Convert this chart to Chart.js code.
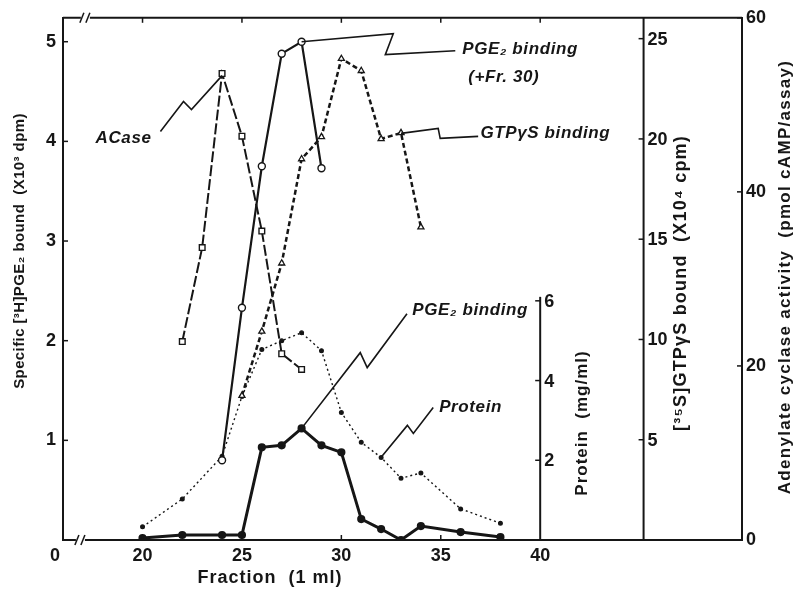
<!DOCTYPE html>
<html>
<head>
<meta charset="utf-8">
<script src="https://cdn.jsdelivr.net/npm/chart.js@4.4.0/dist/chart.umd.min.js"></script>
<style>
  html, body { margin: 0; padding: 0; background: #fff; }
</style>
</head>
<body>
<canvas id="chart_fraction" width="795" height="595"></canvas>
<script>
// axis ticks (the "0" sits just left of the axis break)
const xTickValues = [15.6, 20, 25, 30, 35, 40];
const xTickLabels = ["0", "20", "25", "30", "35", "40"];
const leftTicks = [1, 2, 3, 4, 5];
const protTicks = [2, 4, 6];
const gtpTicks = [5, 10, 15, 20, 25];
const acTicks = [0, 20, 40, 60];

// [3H]PGE2 binding (x10^3 dpm), filled circles
const pgeFrac = [20, 22, 24, 25, 26, 27, 28, 29, 30, 31, 32, 33, 34, 36, 38];
const pgeVal = [0.02, 0.05, 0.05, 0.05, 0.93, 0.95, 1.12, 0.95, 0.88, 0.21, 0.11, 0.0, 0.14, 0.08, 0.03];

// [3H]PGE2 binding with Fr. 30 added, open circles
const pgeFr30Frac = [24, 25, 26, 27, 28, 29];
const pgeFr30Val = [0.8, 2.33, 3.75, 4.88, 5.0, 3.73];

// adenylate cyclase (pmol cAMP/assay), open squares
const acaseFrac = [22, 23, 24, 25, 26, 27, 28];
const acaseVal = [22.8, 33.6, 53.6, 46.4, 35.5, 21.4, 19.6];

// [35S]GTPgS binding (x10^4 cpm), open triangles
const gtpFrac = [25, 26, 27, 28, 29, 30, 31, 32, 33, 34];
const gtpVal = [7.2, 10.4, 13.8, 19.0, 20.1, 24.0, 23.4, 20.0, 20.3, 15.6];

// protein (mg/ml), small dots
const protFrac = [20, 22, 24, 25, 26, 27, 28, 29, 30, 31, 32, 33, 34, 36, 38];
const protVal = [0.33, 1.03, 2.1, 3.6, 4.78, 5.0, 5.2, 4.75, 3.2, 2.45, 2.07, 1.55, 1.68, 0.78, 0.42];

const INK = "#161616";
const FONT = '"Liberation Sans", Arial, "DejaVu Sans", sans-serif';
const protAxisAt = 40;   // fraction where the protein axis stands
const gtpAxisAt = 45.2;  // fraction where the GTPgS axis stands

function pairs(xs, ys) {
  return xs.map((f, i) => ({ x: f, y: ys[i] }));
}

// leader lines with their little zigzag, in (fraction, left axis) units
const leaders = [
  [[20.9, 4.1], [22.06, 4.4], [22.46, 4.32], [24.0, 4.66]],
  [[28.0, 5.0], [32.61, 5.08], [32.21, 4.87], [35.73, 4.91]],
  [[33.0, 4.08], [34.87, 4.13], [34.97, 4.03], [36.88, 4.05]],
  [[28.0, 1.12], [30.95, 1.88], [31.3, 1.73], [33.3, 2.27]],
  [[32.0, 0.83], [33.32, 1.15], [33.62, 1.07], [34.62, 1.33]],
];
const notes = [
  { text: "ACase", x: 17.64, y: 4.03 },
  { text: "PGE\u2082 binding", x: 36.08, y: 4.92 },
  { text: "(+Fr. 30)", x: 36.38, y: 4.64 },
  { text: "GTP\u03B3S binding", x: 37.0, y: 4.08 },
  { text: "PGE\u2082 binding", x: 33.57, y: 2.3 },
  { text: "Protein", x: 34.92, y: 1.33 },
];

function stroke(ctx, pts) {
  ctx.beginPath();
  pts.forEach((p, i) => (i ? ctx.lineTo(p[0], p[1]) : ctx.moveTo(p[0], p[1])));
  ctx.stroke();
}

function vText(ctx, text, x, y, font, spacing) {
  ctx.save();
  ctx.font = font;
  ctx.letterSpacing = spacing;
  ctx.translate(x, y);
  ctx.rotate(-Math.PI / 2);
  ctx.textAlign = "center";
  ctx.textBaseline = "middle";
  ctx.fillText(text, 0, 0);
  ctx.restore();
}

function breakMark(ctx, x, y) {
  ctx.fillStyle = "#fff";
  ctx.fillRect(x - 4, y - 3, 9, 6);
  ctx.fillStyle = INK;
  ctx.lineWidth = 1.5;
  stroke(ctx, [[x - 5, y + 5], [x - 1, y - 5]]);
  stroke(ctx, [[x + 1, y + 5], [x + 5, y - 5]]);
}

// frame, extra axes, inward ticks, titles and labels
const figureDecor = {
  id: "figureDecor",
  afterDraw(chart) {
    const ctx = chart.ctx;
    const area = chart.chartArea;
    const sx = chart.scales.x;
    const sy = chart.scales.y;
    const sAC = chart.scales.yAC;
    const sG = chart.scales.yGtp;
    const sP = chart.scales.yProt;
    ctx.save();
    ctx.strokeStyle = INK;
    ctx.fillStyle = INK;

    // top frame
    ctx.lineWidth = 2;
    stroke(ctx, [[area.left, area.top], [area.right, area.top]]);

    // inward ticks
    ctx.lineWidth = 1.5;
    xTickValues.slice(1).forEach((v) => {
      const px = sx.getPixelForValue(v);
      stroke(ctx, [[px, area.top], [px, area.top + 5]]);
      if (v !== protAxisAt) stroke(ctx, [[px, area.bottom], [px, area.bottom - 5]]);
    });
    leftTicks.forEach((v) => {
      const py = sy.getPixelForValue(v);
      stroke(ctx, [[area.left, py], [area.left + 5, py]]);
    });
    acTicks.slice(1).forEach((v) => {
      const py = sAC.getPixelForValue(v);
      stroke(ctx, [[area.right - 5, py], [area.right, py]]);
    });

    ctx.font = "bold 18px " + FONT;
    ctx.textAlign = "left";
    ctx.textBaseline = "middle";

    // protein axis (stops at 6)
    const xp = sx.getPixelForValue(protAxisAt);
    ctx.lineWidth = 2;
    stroke(ctx, [[xp, area.bottom], [xp, sP.getPixelForValue(6.1)]]);
    ctx.lineWidth = 1.5;
    protTicks.forEach((v) => {
      const py = sP.getPixelForValue(v);
      stroke(ctx, [[xp - 5, py], [xp, py]]);
      ctx.fillText(String(v), xp + 4, py + 1);
    });

    // GTPgS axis (full height)
    const xg = sx.getPixelForValue(gtpAxisAt);
    ctx.lineWidth = 2;
    stroke(ctx, [[xg, area.bottom], [xg, area.top]]);
    ctx.lineWidth = 1.5;
    gtpTicks.forEach((v) => {
      const py = sG.getPixelForValue(v);
      stroke(ctx, [[xg - 5, py], [xg, py]]);
      ctx.fillText(String(v), xg + 4, py + 1);
    });

    // axis breaks
    breakMark(ctx, sx.getPixelForValue(17.1), area.top);
    breakMark(ctx, sx.getPixelForValue(16.85), area.bottom);

    // leaders and notes
    ctx.lineWidth = 1.6;
    leaders.forEach((l) => {
      stroke(ctx, l.map((p) => [sx.getPixelForValue(p[0]), sy.getPixelForValue(p[1])]));
    });
    ctx.font = "italic bold 17px " + FONT;
    ctx.letterSpacing = "0.6px";
    notes.forEach((n) => {
      ctx.fillText(n.text, sx.getPixelForValue(n.x), sy.getPixelForValue(n.y));
    });

    // axis titles
    ctx.font = "bold 18px " + FONT;
    ctx.letterSpacing = "1px";
    ctx.textAlign = "center";
    ctx.fillText("Fraction  (1 ml)", 270, 578);
    vText(ctx, "Specific [\u00B3H]PGE\u2082 bound  (X10\u00B3 dpm)", 20, 251, "bold 15px " + FONT, "0.4px");
    vText(ctx, "Protein  (mg/ml)", 582, 423, "bold 17px " + FONT, "1px");
    vText(ctx, "[\u00B3\u2075S]GTP\u03B3S bound  (X10\u2074 cpm)", 681, 283, "bold 18px " + FONT, "1.2px");
    vText(ctx, "Adenylate cyclase activity  (pmol cAMP/assay)", 785, 277, "bold 17px " + FONT, "1.3px");
    ctx.restore();
  },
};

const tickFont = { family: FONT, size: 18, weight: "bold" };
const ctx = document.getElementById("chart_fraction").getContext("2d");

const chart = new Chart(ctx, {
  type: "line",
  data: {
    datasets: [
      {
        label: "PGE2 binding",
        data: pairs(pgeFrac, pgeVal),
        yAxisID: "y",
        borderColor: INK,
        borderWidth: 3,
        pointRadius: 2.6,
        pointBackgroundColor: INK,
        pointBorderColor: INK,
      },
      {
        label: "PGE2 binding (+Fr. 30)",
        data: pairs(pgeFr30Frac, pgeFr30Val),
        yAxisID: "y",
        borderColor: INK,
        borderWidth: 2.2,
        pointRadius: 3.5,
        pointBorderWidth: 1.4,
        pointBackgroundColor: "#fff",
        pointBorderColor: INK,
      },
      {
        label: "ACase",
        data: pairs(acaseFrac, acaseVal),
        yAxisID: "yAC",
        borderColor: INK,
        borderWidth: 2,
        borderDash: [11, 3],
        pointStyle: "rect",
        pointRadius: 4,
        pointBorderWidth: 1.4,
        pointBackgroundColor: "#fff",
        pointBorderColor: INK,
      },
      {
        label: "GTPyS binding",
        data: pairs(gtpFrac, gtpVal),
        yAxisID: "yGtp",
        borderColor: INK,
        borderWidth: 2.5,
        borderDash: [5, 3],
        pointStyle: "triangle",
        pointRadius: 3.5,
        pointBorderWidth: 1.3,
        pointBackgroundColor: "#fff",
        pointBorderColor: INK,
      },
      {
        label: "Protein",
        data: pairs(protFrac, protVal),
        yAxisID: "yProt",
        borderColor: INK,
        borderWidth: 1.4,
        borderDash: [2, 3],
        pointRadius: 1.8,
        pointBackgroundColor: INK,
        pointBorderColor: INK,
      },
    ],
  },
  options: {
    responsive: false,
    animation: false,
    layout: { padding: { top: 16, left: 0, right: 0, bottom: 0 } },
    plugins: { legend: { display: false }, tooltip: { enabled: false } },
    scales: {
      x: {
        type: "linear",
        position: "bottom",
        min: 16,
        max: 50.15,
        afterBuildTicks: (s) => { s.ticks = xTickValues.map((v) => ({ value: v })); },
        afterFit: (s) => { s.height = 55; },
        grid: { display: false, drawTicks: false },
        border: { display: true, color: INK, width: 2 },
        ticks: {
          color: INK,
          font: tickFont,
          padding: 5,
          maxRotation: 0,
          autoSkip: false,
          callback: (v, i) => xTickLabels[i],
        },
      },
      y: {
        type: "linear",
        position: "left",
        min: 0,
        max: 5.24,
        afterBuildTicks: (s) => { s.ticks = leftTicks.map((v) => ({ value: v })); },
        afterFit: (s) => { s.width = 63; },
        grid: { display: false, drawTicks: false },
        border: { display: true, color: INK, width: 2 },
        ticks: { color: INK, font: tickFont, padding: 7 },
      },
      yAC: {
        type: "linear",
        position: "right",
        min: 0,
        max: 60,
        afterBuildTicks: (s) => { s.ticks = acTicks.map((v) => ({ value: v })); },
        afterFit: (s) => { s.width = 53; },
        grid: { display: false, drawTicks: false },
        border: { display: true, color: INK, width: 2 },
        ticks: { color: INK, font: tickFont, padding: 4 },
      },
      yGtp: { type: "linear", display: false, min: 0, max: 26.04 },
      yProt: { type: "linear", display: false, min: 0, max: 13.1 },
    },
  },
  plugins: [figureDecor],
});
</script>
</body>
</html>
